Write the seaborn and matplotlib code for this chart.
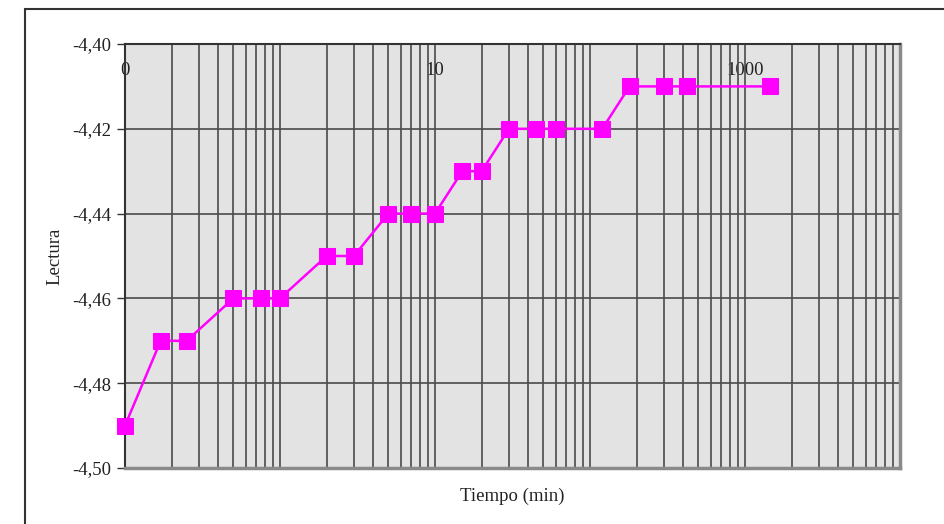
import matplotlib
matplotlib.use("Agg")
import matplotlib.pyplot as plt
import matplotlib.ticker as mticker
from matplotlib.patches import Rectangle
import seaborn as sns
import pandas as pd

# lecturas del ensayo
tiempo_min = [0.1, 0.17, 0.25, 0.5, 0.75, 1, 2, 3, 5, 7, 10, 15, 20, 30, 45, 60,
              120, 180, 300, 420, 1440]
lectura = [-4.49, -4.47, -4.47, -4.46, -4.46, -4.46, -4.45, -4.45, -4.44, -4.44,
           -4.44, -4.43, -4.43, -4.42, -4.42, -4.42, -4.42, -4.41, -4.41, -4.41,
           -4.41]
x_labels = {0.1: "0", 10: "10", 1000: "1000"}
y_ticks = [-4.50, -4.48, -4.46, -4.44, -4.42, -4.40]

df = pd.DataFrame({"t": tiempo_min, "l": lectura})

sns.set_style("white")
plt.rcParams["font.family"] = ["Liberation Serif", "DejaVu Serif"]
fs = 13.5

fig = plt.figure(figsize=(9.44, 5.24), dpi=100)
ax = fig.add_axes([125 / 944, 56 / 524, 775 / 944, 424 / 524])
ax.set_facecolor("#E3E3E3")

sns.lineplot(data=df, x="t", y="l", ax=ax, color="#FF00FF", lw=1.8,
             marker="s", markersize=11, markeredgecolor="#FF00FF", zorder=5,
             clip_on=False)

ax.set_xscale("log")
ax.set_xlim(0.1, 10000)
ax.set_ylim(-4.50, -4.40)
ax.xaxis.set_major_locator(mticker.LogLocator(base=10, numticks=10))
ax.xaxis.set_minor_locator(mticker.LogLocator(base=10, subs=range(2, 10), numticks=50))
ax.xaxis.set_major_formatter(mticker.FuncFormatter(
    lambda v, p: next((s for k, s in x_labels.items() if abs(v - k) / k < 1e-6), "")))
ax.xaxis.set_minor_formatter(mticker.NullFormatter())
ax.tick_params(axis="x", which="both", bottom=False, top=False, labelbottom=False,
               labeltop=True, length=0, pad=-25, labelsize=fs, labelcolor="#222222")

ax.set_yticks(y_ticks)
ax.set_yticklabels([f"{v:.2f}".replace(".", ",") for v in y_ticks])
ax.tick_params(axis="y", left=True, length=6, width=1, color="#333333",
               labelsize=fs, labelcolor="#222222", pad=4)

ax.grid(True, which="both", axis="x", color="#4a4a4a", lw=1.2)
ax.grid(True, which="major", axis="y", color="#4a4a4a", lw=1.2)
ax.set_axisbelow(True)

for side in ["left", "top"]:
    ax.spines[side].set_color("#333333")
    ax.spines[side].set_linewidth(1.5)
for side in ["right", "bottom"]:
    ax.spines[side].set_color("#8a8a8a")
    ax.spines[side].set_linewidth(2.5)

ax.set_xlabel("Tiempo (min)", fontsize=fs, color="#222222", labelpad=14)
ax.set_ylabel("Lectura", fontsize=fs, color="#222222", labelpad=6)

fig.patches.append(Rectangle((25 / 944, -0.2), 1.2, 1.2 - 9 / 524,
                             transform=fig.transFigure, fill=False,
                             edgecolor="#333333", lw=1.5))

fig.savefig("out.png", dpi=100)
